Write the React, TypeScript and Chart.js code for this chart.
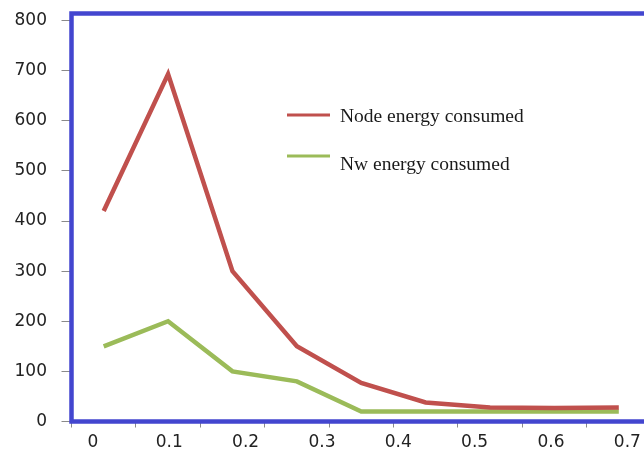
import React, { useEffect, useRef } from 'react';
import { Chart, registerables } from 'chart.js';

Chart.register(...registerables);

// ---- data ----
const samplePoints = ['1', '2', '3', '4', '5', '6', '7', '8', '9'];
const nodeEnergy = [420, 693, 300, 150, 77, 38, 28, 27, 28];
const nwEnergy = [150, 200, 100, 80, 20, 20, 20, 20, 20];
const seriesNames = ['Node energy consumed', 'Nw energy consumed'];
const seriesColors = ['#C0504D', '#9BBB59'];
const xTickLabels = ['0', '0.1', '0.2', '0.3', '0.4', '0.5', '0.6', '0.7'];
const yTickStep = 100;
const yTickTop = 800;

const FRAME_COLOR = '#4346CF';

const framePlugin = {
  id: 'frameBox',
  afterDraw(chart: any) {
    const { ctx, chartArea: a } = chart;
    ctx.save();
    ctx.strokeStyle = FRAME_COLOR;
    ctx.lineWidth = 4.5;
    ctx.strokeRect(a.left, a.top, a.right - a.left, a.bottom - a.top);
    ctx.restore();
  },
};

const legendPlugin = {
  id: 'innerLegend',
  afterDraw(chart: any) {
    const { ctx } = chart;
    const rows = [
      { lineY: 115, textY: 121.5 },
      { lineY: 156, textY: 169.5 },
    ];
    ctx.save();
    chart.data.datasets.forEach((ds: any, i: number) => {
      const r = rows[i];
      ctx.strokeStyle = ds.borderColor;
      ctx.lineWidth = 3;
      ctx.beginPath();
      ctx.moveTo(287, r.lineY);
      ctx.lineTo(330, r.lineY);
      ctx.stroke();
      ctx.fillStyle = '#1a1a1a';
      ctx.font = '19.5px "Liberation Serif", "Times New Roman", serif';
      ctx.textAlign = 'left';
      ctx.textBaseline = 'alphabetic';
      ctx.fillText(ds.label, 340, r.textY);
    });
    ctx.restore();
  },
};

const noPad = (s: any) => {
  s.paddingTop = 0;
  s.paddingBottom = 0;
  s.paddingLeft = 0;
  s.paddingRight = 0;
};

export default function App() {
  const ref = useRef<HTMLCanvasElement | null>(null);

  useEffect(() => {
    if (!ref.current) return;
    const chart = new Chart(ref.current, {
      type: 'line',
      data: {
        labels: samplePoints,
        datasets: [
          {
            label: seriesNames[0],
            data: nodeEnergy,
            borderColor: seriesColors[0],
            backgroundColor: seriesColors[0],
            borderWidth: 4.5,
            pointRadius: 0,
            tension: 0,
            xAxisID: 'x',
          },
          {
            label: seriesNames[1],
            data: nwEnergy,
            borderColor: seriesColors[1],
            backgroundColor: seriesColors[1],
            borderWidth: 4.5,
            pointRadius: 0,
            tension: 0,
            xAxisID: 'x',
          },
        ],
      },
      options: {
        animation: false,
        responsive: true,
        maintainAspectRatio: false,
        layout: { padding: { top: 13.5, right: 5, bottom: 0, left: 0 } },
        plugins: {
          legend: { display: false },
          tooltip: { enabled: false },
        },
        scales: {
          x: {
            type: 'category',
            position: 'bottom',
            offset: true,
            weight: 0,
            border: { display: false },
            grid: {
              offset: true,
              drawOnChartArea: false,
              drawTicks: true,
              tickLength: 6,
              color: '#8a8a8a',
              lineWidth: 1,
            },
            ticks: { display: false },
            afterFit: (s: any) => {
              s.height = 6;
              noPad(s);
            },
          },
          xl: {
            type: 'linear',
            position: 'bottom',
            weight: 1,
            min: -0.028,
            max: 0.731,
            border: { display: false },
            grid: { display: false, drawTicks: false },
            ticks: {
              stepSize: 0.1,
              includeBounds: false,
              padding: 5,
              color: '#222',
              font: { family: '"DejaVu Sans", sans-serif', size: 17 },
              callback: (_v: any, i: number) => xTickLabels[i] ?? '',
              maxRotation: 0,
              autoSkip: false,
            },
            afterFit: (s: any) => {
              s.height = 24.5;
              noPad(s);
            },
          },
          y: {
            type: 'linear',
            min: 0,
            max: 814,
            border: { display: false },
            grid: {
              drawOnChartArea: false,
              drawTicks: true,
              tickLength: 10,
              color: '#8a8a8a',
              lineWidth: 1,
            },
            ticks: {
              stepSize: yTickStep,
              includeBounds: false,
              padding: 14.5,
              color: '#222',
              font: { family: '"DejaVu Sans", sans-serif', size: 17 },
              callback: (v: any) => (Number(v) <= yTickTop ? String(v) : ''),
            },
            afterFit: (s: any) => {
              s.width = 71.5;
              noPad(s);
            },
          },
        },
      },
      plugins: [framePlugin, legendPlugin],
    });
    return () => chart.destroy();
  }, []);

  return (
    <div
      style={{
        position: 'absolute',
        left: 0,
        top: 0,
        width: 644,
        height: 452,
        overflow: 'hidden',
        background: '#fff',
      }}
    >
      <div style={{ position: 'relative', width: 656, height: 452 }}>
        <canvas ref={ref} />
      </div>
    </div>
  );
}
